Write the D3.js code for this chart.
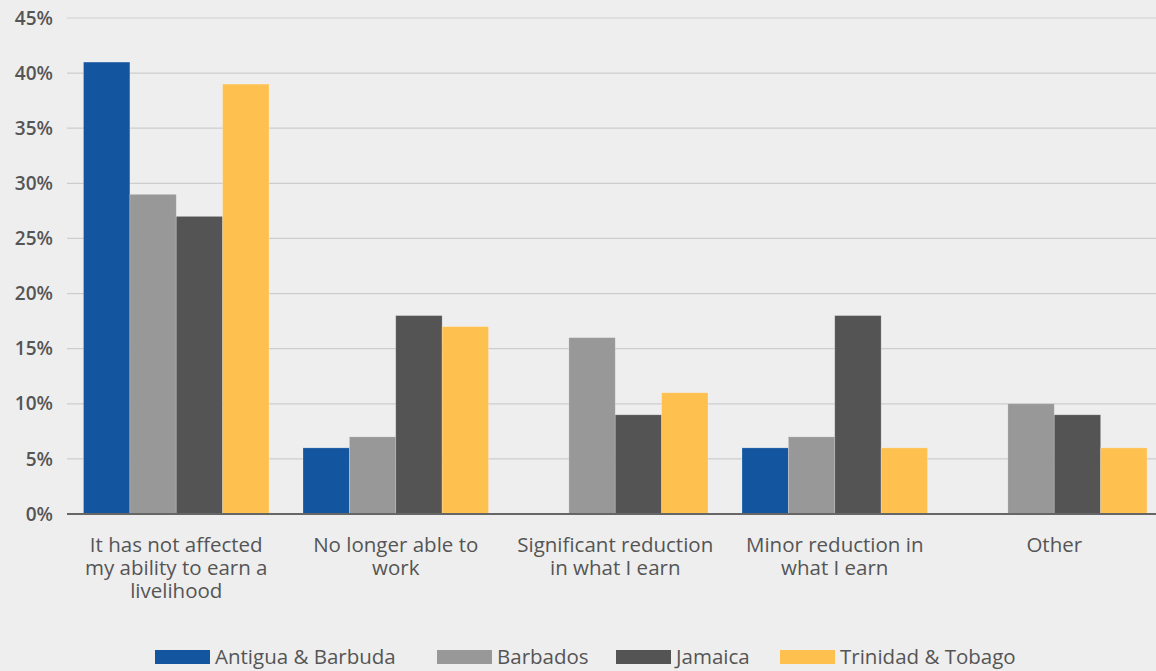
<!DOCTYPE html>
<html><head><meta charset="utf-8">
<script src="https://cdn.jsdelivr.net/npm/d3@7"></script>
<style>
html,body{margin:0;padding:0;background:#eeeeee;}
svg{display:block;font-family:"Open Sans",sans-serif;}
</style></head>
<body><svg id="chart" width="1156" height="671"></svg>
<script>
const categories = ["It has not affected my ability to earn a livelihood","No longer able to work","Significant reduction in what I earn","Minor reduction in what I earn","Other"];
const categoryLines = [["It has not affected","my ability to earn a","livelihood"],["No longer able to","work"],["Significant reduction","in what I earn"],["Minor reduction in","what I earn"],["Other"]];
const seriesNames = ["Antigua & Barbuda","Barbados","Jamaica","Trinidad & Tobago"];
const antigua = [41,6,0,6,0];
const barbados = [29,7,16,7,10];
const jamaica = [27,18,9,18,9];
const trinidad = [39,17,11,6,6];
const yTicks = [0,5,10,15,20,25,30,35,40,45];
const colors = ["#1455a0","#999898","#545454","#fec150"];

const series = [antigua,barbados,jamaica,trinidad];
const svg = d3.select("#chart");
const W = 1156;
const y = d3.scaleLinear().domain([0,45]).range([514,18]);
const x0 = d3.scaleBand().domain(categories).range([66.5,1164]).paddingInner(0.155).paddingOuter(0.0775);
const x1 = d3.scaleBand().domain(seriesNames).range([0,x0.bandwidth()]);

// gridlines
svg.append("g").selectAll("line").data(yTicks.filter(t=>t>0)).join("line")
  .attr("x1",67).attr("x2",W).attr("y1",d=>y(d)).attr("y2",d=>y(d))
  .attr("stroke","#cdcdcd").attr("stroke-width",1.2);

// y labels
svg.append("g").selectAll("text").data(yTicks).join("text")
  .attr("x",53).attr("y",d=>y(d)).attr("dy","0.35em").attr("text-anchor","end")
  .attr("font-size",19).attr("font-weight",600).attr("fill","#555")
  .text(d=>d+"%");

// bars
const g = svg.append("g");
categories.forEach((c,ci)=>{
  series.forEach((s,si)=>{
    const v = s[ci];
    if (v<=0) return;
    g.append("rect")
      .attr("x",x0(c)+x1(seriesNames[si]))
      .attr("y",y(v))
      .attr("width",x1.bandwidth())
      .attr("height",y(0)-y(v))
      .attr("fill",colors[si])
      .attr("stroke","rgba(255,255,255,0.25)").attr("stroke-width",0.8);
  });
});

// zero axis
svg.append("line").attr("x1",67).attr("x2",W).attr("y1",y(0)).attr("y2",y(0))
  .attr("stroke","#666").attr("stroke-width",2);

// category labels
const cl = svg.append("g");
categories.forEach((c,ci)=>{
  categoryLines[ci].forEach((ln,li)=>{
    cl.append("text").attr("text-anchor","middle").attr("font-size",20.5).attr("font-weight",500).attr("fill","#555")
      .attr("x",x0(c)+x0.bandwidth()/2).attr("y",552+li*23).text(ln);
  });
});

// legend
const legendX = [155,437,616,780];
const lg = svg.append("g");
seriesNames.forEach((n,i)=>{
  lg.append("rect").attr("x",legendX[i]).attr("y",650).attr("width",55).attr("height",14).attr("fill",colors[i]);
  lg.append("text").attr("x",legendX[i]+60).attr("y",657).attr("dy","0.35em")
    .attr("font-size",20.5).attr("font-weight",500).attr("fill","#555").text(n);
});
</script></body></html>
